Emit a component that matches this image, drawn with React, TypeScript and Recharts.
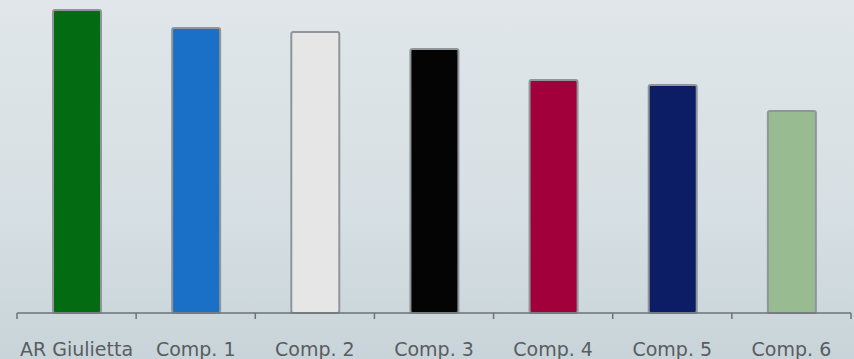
import { Bar, BarChart, Cell, XAxis, YAxis } from "recharts";

const models = ["AR Giulietta", "Comp. 1", "Comp. 2", "Comp. 3", "Comp. 4", "Comp. 5", "Comp. 6"];
const scores = [303, 285, 281, 264, 233, 228, 202];
const barColors = ["#036b12", "#1a6fc6", "#e6e6e6", "#040404", "#a1003a", "#0c1d66", "#98bb92"];

const data = models.map((name, i) => ({ name, score: scores[i] }));

const WIDTH = 854;
const HEIGHT = 359;
const LEFT = 17;
const RIGHT = 3;
const AXIS_H = 46;
const STEP = (WIDTH - LEFT - RIGHT) / models.length;

function CategoryTick(props: any) {
  const { x, payload, index } = props;
  const lineY = HEIGHT - AXIS_H;
  const left = x - STEP / 2;
  return (
    <g>
      <line x1={left} y1={lineY} x2={left} y2={lineY + 6} stroke="#6d7377" strokeWidth={1.5} />
      {index === models.length - 1 && (
        <line x1={x + STEP / 2} y1={lineY} x2={x + STEP / 2} y2={lineY + 6} stroke="#6d7377" strokeWidth={1.5} />
      )}
      <text x={x} y={lineY + 43} textAnchor="middle" fill="#595d60" fontSize={19} fontFamily="DejaVu Sans">
        {payload.value}
      </text>
    </g>
  );
}

export default function App() {
  return (
    <div
      style={{
        position: "fixed",
        left: 0,
        top: 0,
        width: WIDTH,
        height: HEIGHT,
        background: "linear-gradient(to bottom, #e0e6e9 0%, #d6dfe3 60%, #c8d4d9 100%)",
      }}
    >
      <BarChart
        width={WIDTH}
        height={HEIGHT}
        data={data}
        margin={{ top: 0, right: RIGHT, bottom: 0, left: LEFT }}
        barSize={48}
      >
        <XAxis
          dataKey="name"
          height={AXIS_H}
          tickLine={false}
          axisLine={{ stroke: "#6d7377", strokeWidth: 1.5 }}
          tick={<CategoryTick />}
          interval={0}
        />
        <YAxis hide domain={[0, 313]} />
        <Bar dataKey="score" stroke="#8f9598" strokeWidth={2} radius={2} isAnimationActive={false}>
          {data.map((d, i) => (
            <Cell key={d.name} fill={barColors[i]} />
          ))}
        </Bar>
      </BarChart>
    </div>
  );
}
